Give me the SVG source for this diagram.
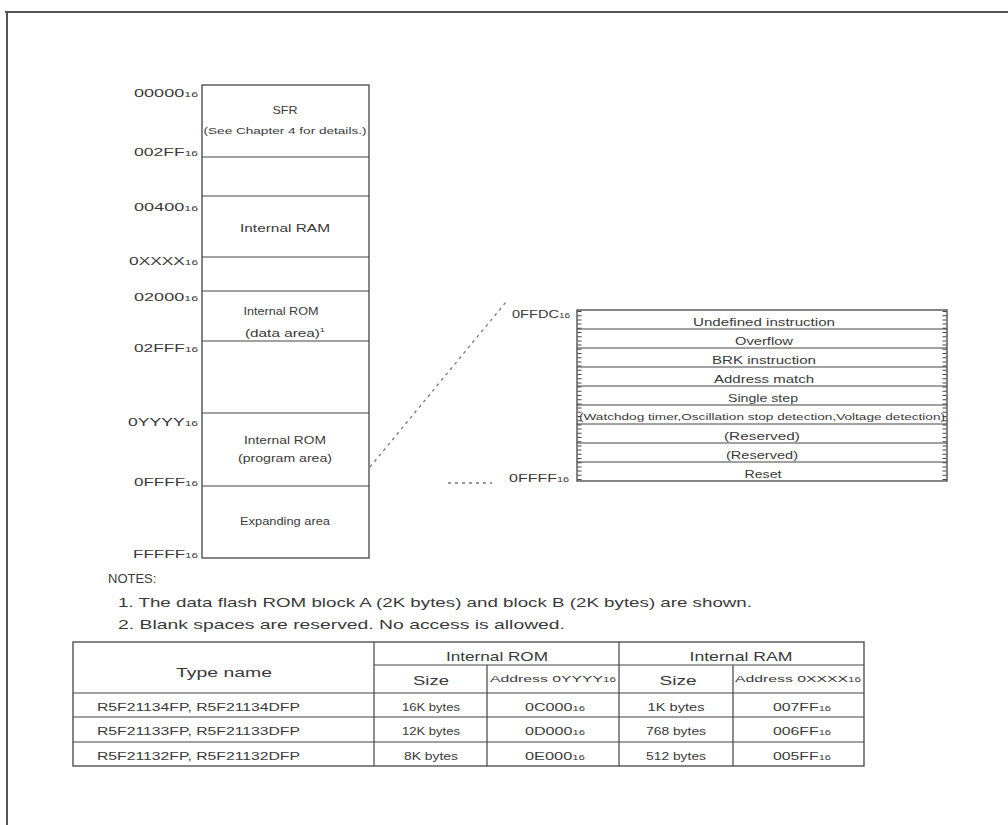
<svg xmlns="http://www.w3.org/2000/svg" width="1008" height="825" viewBox="0 0 1008 825">
<style>
text{font-family:"Liberation Sans",Arial,sans-serif;fill:#3a3a3a}
.lbl{font-size:11px;text-anchor:end}
.sub{font-size:7.5px}
.c{text-anchor:middle}
.box{fill:none;stroke:#444;stroke-width:1.3}
.ln{stroke:#444;stroke-width:1.2}
.vt{font-size:10.5px;text-anchor:middle}
.wd{font-size:9.5px;text-anchor:middle}
.tb{font-size:10px}
.note{font-size:13px}
.mm{font-size:11px;text-anchor:middle}
.hd{font-size:13px;text-anchor:middle}
</style>
<rect width="1008" height="825" fill="#fff"/>
<g id="frame">
<line x1="5" y1="12" x2="1008" y2="12" stroke="#555" stroke-width="2.2"/>
<line x1="7" y1="12" x2="7" y2="825" stroke="#555" stroke-width="2"/>
</g>
<g id="memory-map">
<rect class="box" x="202" y="85" width="167" height="473"/>
<line class="ln" x1="202" y1="157" x2="369" y2="157"/>
<line class="ln" x1="202" y1="196" x2="369" y2="196"/>
<line class="ln" x1="202" y1="257" x2="369" y2="257"/>
<line class="ln" x1="202" y1="291" x2="369" y2="291"/>
<line class="ln" x1="202" y1="341" x2="369" y2="341"/>
<line class="ln" x1="202" y1="413" x2="369" y2="413"/>
<line class="ln" x1="202" y1="486" x2="369" y2="486"/>
<text class="lbl" x="198" y="97" textLength="64" lengthAdjust="spacingAndGlyphs">00000<tspan class="sub">16</tspan></text>
<text class="lbl" x="198" y="156" textLength="64" lengthAdjust="spacingAndGlyphs">002FF<tspan class="sub">16</tspan></text>
<text class="lbl" x="198" y="211" textLength="64" lengthAdjust="spacingAndGlyphs">00400<tspan class="sub">16</tspan></text>
<text class="lbl" x="198" y="265" textLength="69" lengthAdjust="spacingAndGlyphs">0XXXX<tspan class="sub">16</tspan></text>
<text class="lbl" x="198" y="301" textLength="64" lengthAdjust="spacingAndGlyphs">02000<tspan class="sub">16</tspan></text>
<text class="lbl" x="198" y="352" textLength="64" lengthAdjust="spacingAndGlyphs">02FFF<tspan class="sub">16</tspan></text>
<text class="lbl" x="198" y="426" textLength="70" lengthAdjust="spacingAndGlyphs">0YYYY<tspan class="sub">16</tspan></text>
<text class="lbl" x="198" y="486" textLength="64" lengthAdjust="spacingAndGlyphs">0FFFF<tspan class="sub">16</tspan></text>
<text class="lbl" x="198" y="558" textLength="65" lengthAdjust="spacingAndGlyphs">FFFFF<tspan class="sub">16</tspan></text>
<text class="mm" x="285" y="114" textLength="25" lengthAdjust="spacingAndGlyphs">SFR</text>
<text class="mm" x="285" y="134" style="font-size:9px" textLength="163" lengthAdjust="spacingAndGlyphs">(See Chapter 4 for details.)</text>
<text class="mm" x="285" y="232" textLength="90" lengthAdjust="spacingAndGlyphs">Internal RAM</text>
<text class="mm" x="281" y="315" textLength="75" lengthAdjust="spacingAndGlyphs">Internal ROM</text>
<text class="mm" x="285" y="337" style="font-size:10px" textLength="80" lengthAdjust="spacingAndGlyphs">(data area)<tspan font-size="6" dy="-5">1</tspan></text>
<text class="mm" x="285" y="444" textLength="82" lengthAdjust="spacingAndGlyphs">Internal ROM</text>
<text class="mm" x="285" y="462" style="font-size:10px" textLength="94" lengthAdjust="spacingAndGlyphs">(program area)</text>
<text class="mm" x="285" y="525" textLength="90" lengthAdjust="spacingAndGlyphs">Expanding area</text>
</g>
<g id="connectors" fill="none" stroke="#777" stroke-width="1.3" stroke-dasharray="3,4">
<line x1="370" y1="467" x2="506" y2="302"/>
<line x1="448" y1="483" x2="492" y2="483"/>
</g>
<g id="vector-table">
<rect class="box" x="577" y="310" width="370" height="171"/>
<line x1="579.5" y1="311" x2="579.5" y2="480" stroke="#444" stroke-width="4" stroke-dasharray="1,3.2"/>
<line x1="944.5" y1="311" x2="944.5" y2="480" stroke="#444" stroke-width="4" stroke-dasharray="1,3.2"/>
<line class="ln" x1="577" y1="329" x2="947" y2="329"/>
<line class="ln" x1="577" y1="348" x2="947" y2="348"/>
<line class="ln" x1="577" y1="367" x2="947" y2="367"/>
<line class="ln" x1="577" y1="386" x2="947" y2="386"/>
<line class="ln" x1="577" y1="405" x2="947" y2="405"/>
<line class="ln" x1="577" y1="424" x2="947" y2="424"/>
<line class="ln" x1="577" y1="443" x2="947" y2="443"/>
<line class="ln" x1="577" y1="462" x2="947" y2="462"/>
<text class="lbl" x="570" y="318" textLength="58" lengthAdjust="spacingAndGlyphs">0FFDC<tspan class="sub">16</tspan></text>
<text class="lbl" x="569" y="482" textLength="60" lengthAdjust="spacingAndGlyphs">0FFFF<tspan class="sub">16</tspan></text>
<text class="vt" x="764" y="326" textLength="142" lengthAdjust="spacingAndGlyphs">Undefined instruction</text>
<text class="vt" x="764" y="345" textLength="58" lengthAdjust="spacingAndGlyphs">Overflow</text>
<text class="vt" x="764" y="364" textLength="104" lengthAdjust="spacingAndGlyphs">BRK instruction</text>
<text class="vt" x="764" y="383" textLength="100" lengthAdjust="spacingAndGlyphs">Address match</text>
<text class="vt" x="763" y="402" textLength="70" lengthAdjust="spacingAndGlyphs">Single step</text>
<text class="wd" x="762" y="420" textLength="366" lengthAdjust="spacingAndGlyphs">(Watchdog timer,Oscillation stop detection,Voltage detection)</text>
<text class="vt" x="762" y="440" textLength="76" lengthAdjust="spacingAndGlyphs">(Reserved)</text>
<text class="vt" x="762" y="459" textLength="72" lengthAdjust="spacingAndGlyphs">(Reserved)</text>
<text class="vt" x="763" y="478" textLength="37" lengthAdjust="spacingAndGlyphs">Reset</text>
</g>
<g id="notes">
<text class="note" x="108" y="583">NOTES:</text>
<text class="note" x="118" y="607" textLength="634" lengthAdjust="spacingAndGlyphs">1.  The data flash ROM block A (2K bytes) and block B (2K bytes) are shown.</text>
<text class="note" x="118" y="629" textLength="447" lengthAdjust="spacingAndGlyphs">2. Blank spaces are reserved. No access is allowed.</text>
</g>
<g id="type-table">
<rect class="box" x="73" y="642" width="791" height="124"/>
<line class="ln" x1="374" y1="642" x2="374" y2="766"/>
<line class="ln" x1="619" y1="642" x2="619" y2="766"/>
<line class="ln" x1="487" y1="665" x2="487" y2="766"/>
<line class="ln" x1="733" y1="665" x2="733" y2="766"/>
<line class="ln" x1="374" y1="665" x2="864" y2="665"/>
<line class="ln" x1="73" y1="693" x2="864" y2="693"/>
<line class="ln" x1="73" y1="717" x2="864" y2="717"/>
<line class="ln" x1="73" y1="742" x2="864" y2="742"/>
<text class="hd" x="224" y="677" textLength="96" lengthAdjust="spacingAndGlyphs">Type name</text>
<text class="hd" x="497" y="661" textLength="102" lengthAdjust="spacingAndGlyphs">Internal ROM</text>
<text class="hd" x="741" y="661" textLength="103" lengthAdjust="spacingAndGlyphs">Internal RAM</text>
<text class="hd" x="431" y="685" textLength="36" lengthAdjust="spacingAndGlyphs">Size</text>
<text class="hd" x="553" y="682" style="font-size:9.5px" textLength="126" lengthAdjust="spacingAndGlyphs">Address 0YYYY<tspan font-size="7">16</tspan></text>
<text class="hd" x="678" y="685" textLength="37" lengthAdjust="spacingAndGlyphs">Size</text>
<text class="hd" x="798" y="682" style="font-size:9.5px" textLength="126" lengthAdjust="spacingAndGlyphs">Address 0XXXX<tspan font-size="7">16</tspan></text>
<text class="tb" x="97" y="711" textLength="203" lengthAdjust="spacingAndGlyphs">R5F21134FP, R5F21134DFP</text>
<text class="tb" x="97" y="735" textLength="203" lengthAdjust="spacingAndGlyphs">R5F21133FP, R5F21133DFP</text>
<text class="tb" x="97" y="760" textLength="203" lengthAdjust="spacingAndGlyphs">R5F21132FP, R5F21132DFP</text>
<text class="tb c" x="431" y="711" textLength="58" lengthAdjust="spacingAndGlyphs">16K bytes</text>
<text class="tb c" x="431" y="735" textLength="58" lengthAdjust="spacingAndGlyphs">12K bytes</text>
<text class="tb c" x="431" y="760" textLength="54" lengthAdjust="spacingAndGlyphs">8K bytes</text>
<text class="tb c" x="555" y="711" textLength="60" lengthAdjust="spacingAndGlyphs">0C000<tspan font-size="7">16</tspan></text>
<text class="tb c" x="555" y="735" textLength="60" lengthAdjust="spacingAndGlyphs">0D000<tspan font-size="7">16</tspan></text>
<text class="tb c" x="555" y="760" textLength="60" lengthAdjust="spacingAndGlyphs">0E000<tspan font-size="7">16</tspan></text>
<text class="tb c" x="676" y="711" textLength="57" lengthAdjust="spacingAndGlyphs">1K bytes</text>
<text class="tb c" x="676" y="735" textLength="60" lengthAdjust="spacingAndGlyphs">768 bytes</text>
<text class="tb c" x="676" y="760" textLength="60" lengthAdjust="spacingAndGlyphs">512 bytes</text>
<text class="tb c" x="802" y="711" textLength="58" lengthAdjust="spacingAndGlyphs">007FF<tspan font-size="7">16</tspan></text>
<text class="tb c" x="802" y="735" textLength="58" lengthAdjust="spacingAndGlyphs">006FF<tspan font-size="7">16</tspan></text>
<text class="tb c" x="802" y="760" textLength="58" lengthAdjust="spacingAndGlyphs">005FF<tspan font-size="7">16</tspan></text>
</g>
</svg>
